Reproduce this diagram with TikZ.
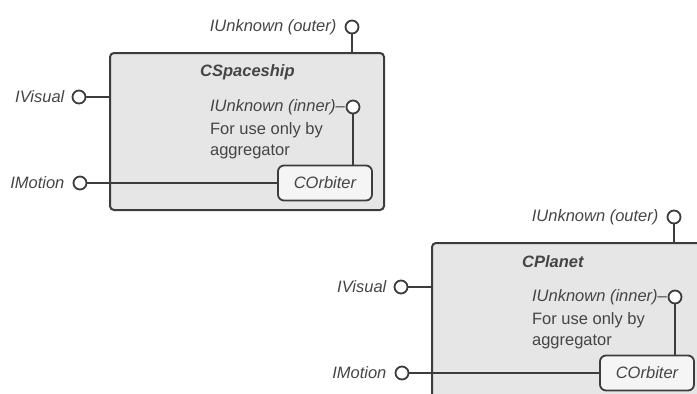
\documentclass[tikz,border=0pt]{standalone}
\usepackage{fontspec}
\setmainfont{Liberation Sans}
\usepackage{xcolor}
\usetikzlibrary{positioning}

\definecolor{boxgray}{HTML}{E6E6E6}
\definecolor{linegray}{HTML}{3C3C3C}
\definecolor{textgray}{HTML}{454545}
\newcommand{\diagfont}{\fontsize{16.5}{21}\selectfont}

\tikzset{
  objbox/.style={draw=linegray, fill=boxgray, line width=2pt, rounded corners=4pt,
    minimum width=274pt, minimum height=157pt, inner sep=0pt, anchor=north west},
  orbbox/.style={draw=linegray, fill=white!96!black, line width=1.8pt, rounded corners=6pt,
    minimum width=94pt, minimum height=35pt, inner sep=0pt, text=textgray, font=\diagfont\itshape},
  iface/.style={circle, draw=linegray, fill=white, line width=1.8pt, minimum size=13pt, inner sep=0pt},
  ifname/.style={inner sep=0pt, text=textgray, font=\diagfont\itshape},
  objname/.style={inner sep=0pt, text=textgray, font=\diagfont\bfseries\itshape, anchor=west},
  note/.style={inner sep=0pt, text=textgray, font=\diagfont, align=left},
  wire/.style={draw=linegray, line width=1.6pt},
}

\begin{document}
\begin{tikzpicture}[x=1pt,y=-1pt]
    \useasboundingbox (0,0) rectangle (697,394);
    \clip (0,0) rectangle (697,394);

    % aggregating object: spaceship
    \node[objbox] (s-box) at (109,52) {};
    \node[objname] (s-name) at (200,72) {CSpaceship};
    \node[iface] (s-outer) at (352,27) {};
    \node[ifname, left=8pt of s-outer] (s-outer-lbl) {IUnknown (outer)};
    \node[iface] (s-visual) at (79,97) {};
    \node[ifname, left=7pt of s-visual] (s-visual-lbl) {IVisual};
    \node[iface] (s-inner) at (353,107) {};
    \node[ifname, left=0.5pt of s-inner] (s-inner-lbl) {IUnknown (inner)--};
    \node[note, below right=7pt and 0pt of s-inner-lbl.south west] (s-note) {For use only by\\aggregator};
    \node[orbbox] (s-orb) at (325,183) {COrbiter};
    \node[iface] (s-motion) at (80,183) {};
    \node[ifname, left=8pt of s-motion] (s-motion-lbl) {IMotion};

    \draw[wire] (s-outer) -- (s-outer |- s-box.north);
    \draw[wire] (s-visual) -- (s-visual -| s-box.west);
    \draw[wire] (s-inner) -- (s-inner |- s-orb.north);
    \draw[wire] (s-motion) -- (s-motion -| s-orb.west);

    % aggregating object: planet
    \begin{scope}[shift={(322,190)}]
        \node[objbox] (p-box) at (109,52) {};
        \node[objname] (p-name) at (200,72) {CPlanet};
        \node[iface] (p-outer) at (352,27) {};
        \node[ifname, left=8pt of p-outer] (p-outer-lbl) {IUnknown (outer)};
        \node[iface] (p-visual) at (79,97) {};
        \node[ifname, left=7pt of p-visual] (p-visual-lbl) {IVisual};
        \node[iface] (p-inner) at (353,107) {};
        \node[ifname, left=0.5pt of p-inner] (p-inner-lbl) {IUnknown (inner)--};
        \node[note, below right=7pt and 0pt of p-inner-lbl.south west] (p-note) {For use only by\\aggregator};
        \node[orbbox] (p-orb) at (325,183) {COrbiter};
        \node[iface] (p-motion) at (80,183) {};
        \node[ifname, left=8pt of p-motion] (p-motion-lbl) {IMotion};

        \draw[wire] (p-outer) -- (p-outer |- p-box.north);
        \draw[wire] (p-visual) -- (p-visual -| p-box.west);
        \draw[wire] (p-inner) -- (p-inner |- p-orb.north);
        \draw[wire] (p-motion) -- (p-motion -| p-orb.west);
    \end{scope}
\end{tikzpicture}
\end{document}
